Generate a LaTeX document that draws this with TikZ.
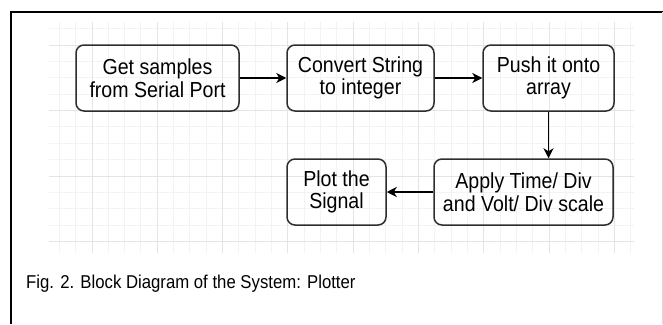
\documentclass[tikz,border=0pt]{standalone}
\usepackage{fontspec}
\setmainfont[FakeStretch=0.9]{Liberation Sans}
\usetikzlibrary{arrows.meta}

\definecolor{gridminor}{HTML}{F3F3F3}
\definecolor{gridmajor}{HTML}{E4E4E4}
\definecolor{boxline}{HTML}{2E2E2E}

\begin{document}
\begin{tikzpicture}[x=1pt,y=-1pt,
    block/.style={draw=boxline,line width=1.5pt,rounded corners=8pt,align=center,
      inner sep=0pt,minimum height=66pt,font=\fontsize{21.75}{22.5}\selectfont},
    flow/.style={line width=1.5pt,-{Stealth[length=10pt,width=10pt,inset=3pt]}}]
\useasboundingbox (0,0) rectangle (663,324);

% grid behind the blocks
\foreach \i in {-2,...,33}
  \draw[gridminor,line width=1pt] ({92+\i*16.33},22) -- ({92+\i*16.33},253);
\foreach \j in {-1,...,12}
  \draw[gridminor,line width=1pt] (49,{45+\j*16.38}) -- (634,{45+\j*16.38});
\foreach \i in {0,...,8}
  \draw[gridmajor,line width=1pt] ({92+\i*65.3},22) -- ({92+\i*65.3},253);
\foreach \j in {0,...,3}
  \draw[gridmajor,line width=1pt] (49,{45+\j*65.5}) -- (634,{45+\j*65.5});

% frame
\draw[line width=2pt] (11,324) -- (11,12) -- (663,12);
\draw[black!15,line width=1pt] (662,12) -- (662,324);

% blocks
\node[block,minimum width=163pt] (samples) at (157.5,78) {Get samples\\from Serial Port};
\node[block,minimum width=147pt] (convert) at (360.5,78) {Convert String\\to integer};
\node[block,minimum width=131pt] (push) at (548.5,78) {Push it onto\\array};
\node[block,minimum width=179pt] (scale) at (523.5,192) {Apply Time/ Div\\and Volt/ Div scale};
\node[block,minimum width=99pt] (plot) at (336.5,192) {Plot the\\Signal};

\draw[flow] (samples) -- (convert);
\draw[flow] (convert) -- (push);
\draw[flow] (push) -- (push |- scale.north);
\draw[flow] (scale) -- (plot);

% caption
\node[anchor=base west,inner sep=0pt,font=\fontsize{18.6}{20}\selectfont] (caption) at (26,288)
  {Fig. 2. Block Diagram of the System: Plotter};
\end{tikzpicture}
\end{document}
